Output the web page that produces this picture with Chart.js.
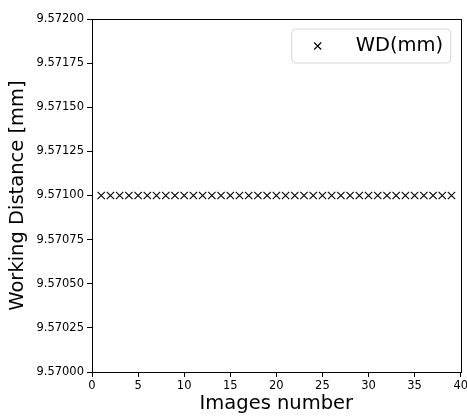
<!DOCTYPE html>
<html>
<head>
<meta charset="utf-8">
<script src="https://cdn.jsdelivr.net/npm/chart.js@4/dist/chart.umd.min.js"></script>
<style>
html,body{margin:0;padding:0;background:#fff;}
#wrap{width:467px;height:416px;position:relative;}
</style>
</head>
<body>
<div id="wrap"><canvas id="c" width="467" height="416"></canvas></div>
<script>
const imageNumbers = [1,2,3,4,5,6,7,8,9,10,11,12,13,14,15,16,17,18,19,20,21,22,23,24,25,26,27,28,29,30,31,32,33,34,35,36,37,38,39];
const wdValues = [9.571,9.571,9.571,9.571,9.571,9.571,9.571,9.571,9.571,9.571,9.571,9.571,9.571,9.571,9.571,9.571,9.571,9.571,9.571,9.571,9.571,9.571,9.571,9.571,9.571,9.571,9.571,9.571,9.571,9.571,9.571,9.571,9.571,9.571,9.571,9.571,9.571,9.571,9.571];
const seriesLabel = 'WD(mm)';
const xTitle = 'Images number';
const yTitle = 'Working Distance [mm]';
const xTicks = [0,5,10,15,20,25,30,35,40];
const yTicks = [9.57000,9.57025,9.57050,9.57075,9.57100,9.57125,9.57150,9.57175,9.57200];

const FONT = "'DejaVu Sans', sans-serif";

const framePlugin = {
  id: 'frame',
  afterDraw(chart) {
    const a = chart.chartArea, ctx = chart.ctx;
    ctx.save();
    ctx.strokeStyle = '#000';
    ctx.lineWidth = 1;
    ctx.strokeRect(Math.round(a.left)+0.5, Math.round(a.top)+0.5, Math.round(a.right-a.left), Math.round(a.bottom-a.top));
    // legend box
    const bx = a.right - 169, by = a.top + 10, bw = 159, bh = 34, r = 4;
    ctx.beginPath();
    ctx.moveTo(bx+r, by);
    ctx.lineTo(bx+bw-r, by); ctx.arcTo(bx+bw, by, bx+bw, by+r, r);
    ctx.lineTo(bx+bw, by+bh-r); ctx.arcTo(bx+bw, by+bh, bx+bw-r, by+bh, r);
    ctx.lineTo(bx+r, by+bh); ctx.arcTo(bx, by+bh, bx, by+bh-r, r);
    ctx.lineTo(bx, by+r); ctx.arcTo(bx, by, bx+r, by, r);
    ctx.closePath();
    ctx.fillStyle = 'rgba(255,255,255,0.8)';
    ctx.fill();
    ctx.strokeStyle = '#d6d6d6';
    ctx.stroke();
    const mx = bx + 26, my = by + bh/2, h = 3.5;
    ctx.beginPath();
    ctx.moveTo(mx-h, my-h); ctx.lineTo(mx+h, my+h);
    ctx.moveTo(mx-h, my+h); ctx.lineTo(mx+h, my-h);
    ctx.strokeStyle = '#000';
    ctx.lineWidth = 1.1;
    ctx.stroke();
    ctx.fillStyle = '#000';
    ctx.font = '19.5px ' + FONT;
    ctx.textBaseline = 'middle';
    ctx.textAlign = 'left';
    ctx.fillText(chart.data.datasets[0].label, bx + 64, my);
    ctx.restore();
  }
};

new Chart(document.getElementById('c'), {
  type: 'scatter',
  data: {
    datasets: [{
      label: seriesLabel,
      data: imageNumbers.map((x, i) => ({x: x, y: wdValues[i]})),
      pointStyle: 'crossRot',
      pointRadius: 5.2,
      pointHoverRadius: 5.2,
      borderColor: '#000',
      backgroundColor: '#000',
      borderWidth: 1.1,
      showLine: false
    }]
  },
  options: {
    responsive: false,
    animation: false,
    devicePixelRatio: 1,
    layout: {padding: {top: 19, right: 4, left: 0, bottom: 0}},
    plugins: {legend: {display: false}, tooltip: {enabled: false}},
    scales: {
      x: {
        type: 'linear', min: 0, max: 40,
        afterBuildTicks: s => { s.ticks = xTicks.map(v => ({value: v})); },
        afterFit: s => { s.height = 44; s.paddingLeft = 0; s.paddingRight = 0; },
        ticks: {color: '#000', font: {family: FONT, size: 11.5}, padding: 2, maxRotation: 0, autoSkip: false},
        grid: {display: true, drawOnChartArea: false, drawTicks: true, tickLength: 5, color: '#000'},
        border: {display: true, color: '#000'},
        title: {display: true, text: xTitle, color: '#000', font: {family: FONT, size: 19.5}, padding: {top: 0, bottom: 0}}
      },
      y: {
        type: 'linear', min: 9.57, max: 9.572,
        afterBuildTicks: s => { s.ticks = yTicks.map(v => ({value: v})); },
        afterFit: s => { s.width = 92; s.paddingTop = 0; s.paddingBottom = 0; },
        ticks: {color: '#000', font: {family: FONT, size: 11.5}, padding: 3, autoSkip: false,
                callback: v => Number(v).toFixed(5)},
        grid: {display: true, drawOnChartArea: false, drawTicks: true, tickLength: 5, color: '#000'},
        border: {display: true, color: '#000'},
        title: {display: true, text: yTitle, color: '#000', font: {family: FONT, size: 19.5}, padding: {top: 6, bottom: 0}}
      }
    }
  },
  plugins: [framePlugin]
});
</script>
</body>
</html>
